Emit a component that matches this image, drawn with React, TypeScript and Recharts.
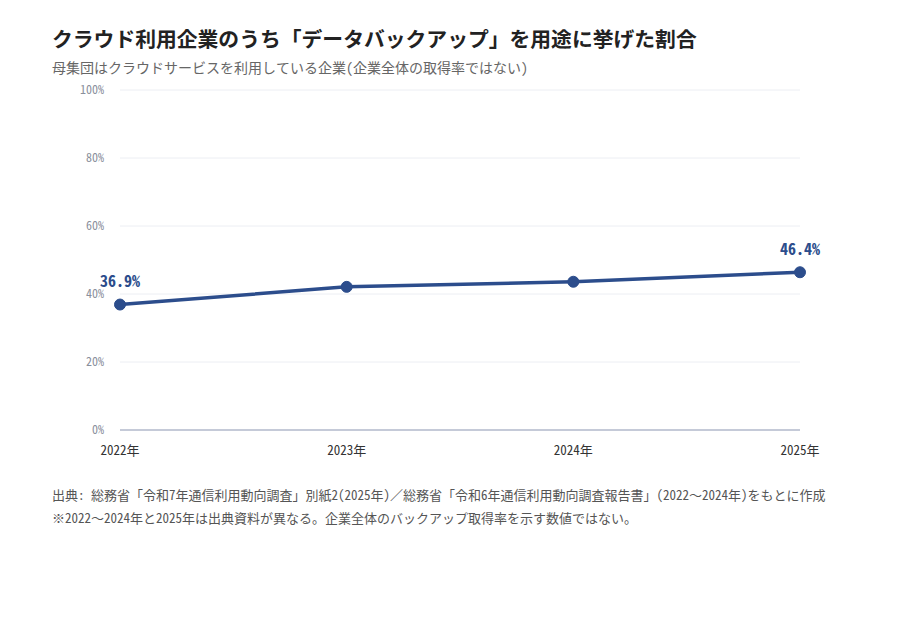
import { LineChart, Line, XAxis, YAxis, CartesianGrid, LabelList } from "recharts";

const years = ["2022年", "2023年", "2024年", "2025年"];
const backupShare = [36.9, 42.1, 43.6, 46.4];
const yTicks = [0, 20, 40, 60, 80, 100];
const labeledIndexes = [0, 3];

const data = years.map((year, i) => ({ year, value: backupShare[i] }));

const NAVY = "#2c4d8c";
const MONO = '"Noto Sans Mono CJK JP", "Noto Sans CJK JP", "DejaVu Sans Mono", monospace';

const EndLabel = (props: any) => {
  const { x, y, index, value } = props;
  if (!labeledIndexes.includes(index)) return null;
  return (
    <text
      x={x}
      y={y - 22}
      textAnchor="middle"
      dominantBaseline="middle"
      fill={NAVY}
      fontSize={16}
      fontWeight={700}
      fontFamily={MONO}
    >
      {`${value.toFixed(1)}%`}
    </text>
  );
};

export default function App() {
  return (
    <div style={{ position: "relative", width: 904, height: 604, background: "#fff", fontFamily: MONO }}>
      <div
        style={{
          position: "absolute",
          left: 44,
          top: 15,
          fontSize: 20.8,
          fontWeight: 700,
          color: "#222",
          lineHeight: "30px",
          whiteSpace: "nowrap",
        }}
      >
        クラウド利用企業のうち「データバックアップ」を用途に挙げた割合
      </div>
      <div
        style={{
          position: "absolute",
          left: 44,
          top: 49,
          fontSize: 14,
          color: "#666",
          lineHeight: "20px",
          whiteSpace: "nowrap",
        }}
      >
        母集団はクラウドサービスを利用している企業(企業全体の取得率ではない)
      </div>
      <div style={{ position: "absolute", left: 44, top: 72 }}>
        <LineChart width={800} height={380} data={data} margin={{ top: 10, right: 52, bottom: 0, left: 0 }}>
          <CartesianGrid horizontal vertical={false} stroke="#eceef3" strokeWidth={1} />
          <XAxis
            dataKey="year"
            interval={0}
            padding={{ left: 0, right: 0 }}
            height={30}
            tickLine={false}
            axisLine={{ stroke: "#c5cad8", strokeWidth: 2 }}
            tickMargin={10}
            tick={{ fontSize: 13, fill: "#333", fontFamily: MONO }}
          />
          <YAxis
            type="number"
            domain={[0, 100]}
            ticks={yTicks}
            width={68}
            axisLine={false}
            tickLine={false}
            tickMargin={10}
            tickFormatter={(v: number) => `${v}%`}
            tick={{ fontSize: 12, fill: "#8a8f9c", fontFamily: MONO }}
          />
          <Line
            type="linear"
            dataKey="value"
            stroke={NAVY}
            strokeWidth={3.5}
            dot={{ r: 5.5, fill: NAVY, stroke: NAVY, strokeWidth: 1 }}
            activeDot={false}
            isAnimationActive={false}
          >
            <LabelList dataKey="value" content={EndLabel} />
          </Line>
        </LineChart>
      </div>
      <div
        style={{
          position: "absolute",
          left: 44,
          top: 475,
          fontSize: 13,
          color: "#555",
          lineHeight: "23px",
          whiteSpace: "nowrap",
        }}
      >
        <div>出典: 総務省「令和7年通信利用動向調査」別紙2(2025年)／総務省「令和6年通信利用動向調査報告書」(2022〜2024年)をもとに作成</div>
        <div>※2022〜2024年と2025年は出典資料が異なる。企業全体のバックアップ取得率を示す数値ではない。</div>
      </div>
    </div>
  );
}
